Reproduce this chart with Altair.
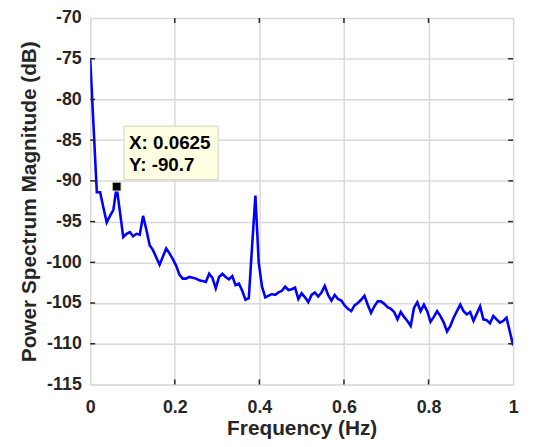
import altair as alt
import pandas as pd

# ---- data ----
freq_step = 1 / 128
power_db = [
    -75.0, -83.2, -91.4, -91.4, -93.3, -95.1, -94.3, -93.6, -90.7, -93.8,
    -96.9, -96.5, -96.3, -96.8, -96.5, -96.6, -94.3, -96.0, -97.9, -98.5,
    -99.4, -100.3, -99.3, -98.3, -98.9, -99.6, -100.4, -101.5, -102.0, -102.0,
    -101.8, -101.9, -102.0, -102.2, -102.3, -102.4, -101.4, -101.9, -103.2, -101.8,
    -101.4, -101.8, -102.1, -101.7, -102.8, -102.6, -103.5, -104.6, -104.4, -98.0,
    -91.8, -100.0, -103.0, -104.3, -104.1, -103.9, -104.0, -103.7, -103.5, -103.0,
    -103.4, -103.3, -103.1, -104.5, -103.8, -104.3, -104.9, -104.0, -103.7, -104.2,
    -103.7, -102.9, -104.0, -104.7, -104.0, -104.5, -104.7, -105.3, -105.7, -106.0,
    -105.3, -105.0, -104.6, -104.1, -105.2, -106.2, -105.4, -104.8, -104.8, -105.1,
    -105.5, -105.7, -106.1, -107.0, -106.1, -106.7, -107.2, -107.8, -105.6, -104.9,
    -106.0, -105.2, -106.0, -107.3, -106.7, -106.0, -106.6, -107.4, -108.5, -107.8,
    -106.8, -106.0, -105.2, -106.0, -106.4, -106.1, -107.2, -106.3, -105.4, -107.0,
    -107.1, -107.5, -106.6, -107.0, -107.4, -107.2, -106.8, -108.5, -110.2,
]
frequency = [i * freq_step for i in range(len(power_db))]

x_ticks = [0, 0.2, 0.4, 0.6, 0.8, 1]
y_ticks = [-115, -110, -105, -100, -95, -90, -85, -80, -75, -70]
x_inner_ticks = [0.2, 0.4, 0.6, 0.8]
y_inner_ticks = [-110, -105, -100, -95, -90, -85, -80, -75]

tip_x = [0.0625]
tip_y = [-90.7]
tip_line1 = ["X: 0.0625"]
tip_line2 = ["Y: -90.7"]

FONT = "Liberation Sans"
TXT = "#262626"
W, H = 427, 370

df = pd.DataFrame({"f": frequency, "p": power_db})
tip = pd.DataFrame({"f": tip_x, "p": tip_y, "l1": tip_line1, "l2": tip_line2})
xt = pd.DataFrame({"f": x_inner_ticks})
yt = pd.DataFrame({"p": y_inner_ticks})

xscale = alt.Scale(domain=[0, 1], nice=False, zero=False)
yscale = alt.Scale(domain=[-115, -70], nice=False, zero=False)

x_axis = alt.Axis(
    values=x_ticks, format="~g", title="Frequency (Hz)",
    grid=True, gridColor="#dadada", gridWidth=1.5,
    domain=False, ticks=False, tickSize=0,
    labelFont=FONT, labelFontSize=18, labelFontWeight="bold", labelColor=TXT,
    labelPadding=14, labelFlush=False,
    titleFont=FONT, titleFontSize=21, titleFontWeight="bold", titleColor=TXT,
    titleY=51, titleBaseline="alphabetic",
)
y_axis = alt.Axis(
    values=y_ticks, labelExpr="datum.value + ''",
    title="Power Spectrum Magnitude (dB)",
    grid=True, gridColor="#dadada", gridWidth=1.5,
    domain=False, ticks=False, tickSize=0,
    labelFont=FONT, labelFontSize=18, labelFontWeight="bold", labelColor=TXT,
    labelPadding=9, labelFlush=False,
    titleFont=FONT, titleFontSize=21, titleFontWeight="bold", titleColor=TXT,
    titleX=-55, titleBaseline="alphabetic",
)

line = alt.Chart(df).mark_line(color="#0000ff", strokeWidth=2.6, clip=True).encode(
    x=alt.X("f:Q", scale=xscale, axis=x_axis),
    y=alt.Y("p:Q", scale=yscale, axis=y_axis),
)

tick_style = dict(color=TXT, strokeWidth=1.5)
left_ticks = alt.Chart(yt).mark_rule(**tick_style).encode(
    y=alt.Y("p:Q", scale=yscale), x=alt.value(0), x2=alt.value(5))
right_ticks = alt.Chart(yt).mark_rule(**tick_style).encode(
    y=alt.Y("p:Q", scale=yscale), x=alt.value(W - 5), x2=alt.value(W))
bottom_ticks = alt.Chart(xt).mark_rule(**tick_style).encode(
    x=alt.X("f:Q", scale=xscale), y=alt.value(H - 5), y2=alt.value(H))
top_ticks = alt.Chart(xt).mark_rule(**tick_style).encode(
    x=alt.X("f:Q", scale=xscale), y=alt.value(0), y2=alt.value(5))

marker = alt.Chart(tip).mark_square(
    size=80, color="black", opacity=1, stroke="#e8e8d8", strokeWidth=1
).encode(x=alt.X("f:Q", scale=xscale), y=alt.Y("p:Q", scale=yscale))

box = alt.Chart(tip).mark_rect(
    width=95, height=54, fill="#ffffe1", stroke="#d0d0c8", strokeWidth=1,
    xOffset=55, yOffset=-34,
).encode(x=alt.X("f:Q", scale=xscale), y=alt.Y("p:Q", scale=yscale))

text_style = dict(font=FONT, fontSize=19, fontWeight="bold", color="black",
                  align="left", baseline="alphabetic")
t1 = alt.Chart(tip).mark_text(dx=12.5, dy=-38, **text_style).encode(
    x=alt.X("f:Q", scale=xscale), y=alt.Y("p:Q", scale=yscale), text="l1:N")
t2 = alt.Chart(tip).mark_text(dx=12.5, dy=-16, **text_style).encode(
    x=alt.X("f:Q", scale=xscale), y=alt.Y("p:Q", scale=yscale), text="l2:N")

chart = alt.layer(
    line, left_ticks, right_ticks, bottom_ticks, top_ticks, marker, box, t1, t2
).properties(
    width=W, height=H,
    autosize=alt.AutoSizeParams(type="none"),
    padding={"left": 83, "top": 8, "right": 12, "bottom": 58},
).configure_view(
    stroke=TXT, strokeWidth=1.8, fill="white"
).configure(background="white")

chart.save("out.html", embed_options={"renderer": "svg", "actions": False})
